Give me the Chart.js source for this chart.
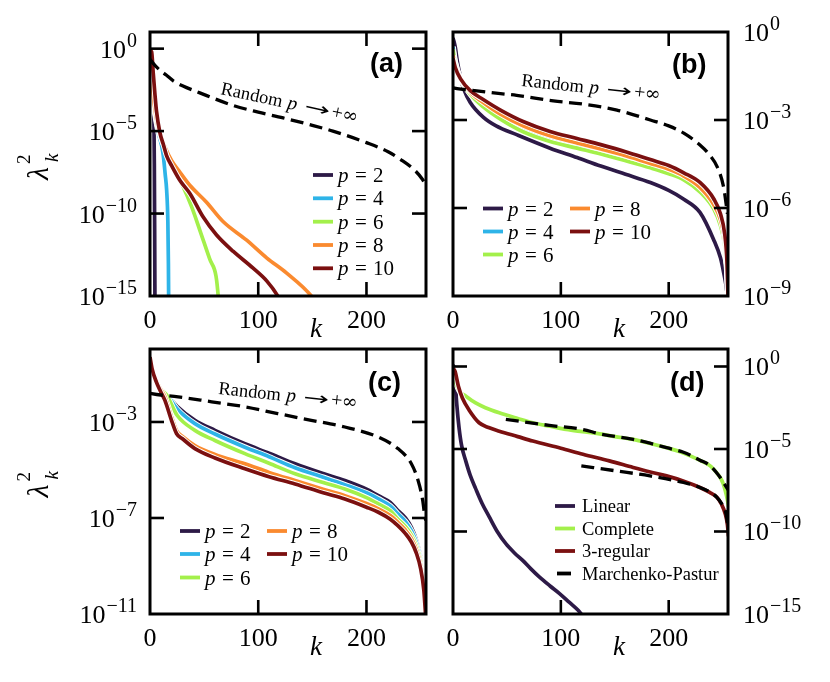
<!DOCTYPE html>
<html>
<head>
<meta charset="utf-8">
<script src="https://cdn.jsdelivr.net/npm/chart.js@4.4.0/dist/chart.umd.min.js"></script>
<style>
    html, body { margin: 0; padding: 0; background: #fff; }
    #figura { position: relative; width: 830px; height: 682px; }
    #figura canvas { position: absolute; left: 0; top: 0; }
</style>
</head>
<body>
<div id="figura">
    <canvas id="painelA" width="830" height="682"></canvas>
    <canvas id="painelB" width="830" height="682"></canvas>
    <canvas id="painelC" width="830" height="682"></canvas>
    <canvas id="painelD" width="830" height="682"></canvas>
</div>
<script>
// valores: k e log10(lambda_k^2)
const ticksX = [0, 100, 200];

// (a)
const kA_p2 = [0, 2, 3.5, 4, 4.3, 4.6];
const logA_p2 = [-0.4, -1.5, -3.5, -7, -11, -16];
const kA_p4 = [0, 2, 4, 7.7, 10.8, 12.3, 14, 15.4, 16.5, 17, 17.3];
const logA_p4 = [-1.0, -2.5, -3.7, -5.1, -5.9, -6.5, -7.6, -8.6, -10.5, -13, -16];
const kA_p6 = [0, 2, 4, 7, 10, 13.8, 20, 25, 30.8, 38.5, 46, 55.4, 61, 63, 64];
const logA_p6 = [-0.9, -2.3, -3.5, -4.7, -5.4, -6.0, -7.0, -7.7, -8.4, -9.6, -11, -12.8, -13.8, -15, -16];
const kA_p8 = [0, 2, 4, 7, 10, 14, 20, 27.7, 37, 52, 67.7, 89, 108, 126, 149, 152];
const logA_p8 = [-0.8, -2.2, -3.4, -4.6, -5.3, -6.0, -6.8, -7.5, -8.3, -9.3, -10.5, -11.6, -12.7, -13.6, -15, -15.3];
const kA_p10 = [0, 1.5, 3, 4.6, 6, 9.2, 12.3, 15.4, 20, 27.7, 37, 49, 61.5, 77, 95, 108, 118, 121];
const logA_p10 = [-0.1, -0.2, -1.5, -2.8, -3.8, -5.1, -5.8, -6.5, -7.1, -8.0, -8.8, -10.2, -11.3, -12.3, -13.3, -14.1, -15, -15.4];
const kA_rand = [0, 5, 10, 15, 21.5, 30, 46, 77, 100, 123, 150, 169, 200, 220, 231, 245, 252, 255];
const logA_rand = [-0.65, -1.05, -1.35, -1.6, -1.95, -2.25, -2.68, -3.45, -3.85, -4.2, -4.65, -5.0, -5.7, -6.25, -6.7, -7.4, -7.95, -8.3];
const ticksYA = [0, -5, -10, -15];

// (b)
const kB = [0, 2, 7, 16, 28, 44, 65, 90, 115, 137, 160, 183, 200, 214, 229, 242, 248, 252, 254, 255];
const kB_p2 = [0, 2, 4, 7, 10, 16, 28, 40, 59, 90, 115, 137, 160, 183, 200, 214, 229, 241.7, 248, 251, 253, 254.5];
const logB_p2 = [-0.2, -0.5, -1.0, -1.55, -1.95, -2.4, -2.9, -3.2, -3.5, -3.96, -4.28, -4.57, -4.85, -5.13, -5.4, -5.7, -6.15, -7.08, -7.7, -8.2, -8.6, -9];
const logB_p4 = [-0.5, -1.0, -1.6, -2.1, -2.5, -2.9, -3.32, -3.65, -3.89, -4.1, -4.33, -4.57, -4.78, -5.0, -5.4, -6.0, -6.5, -7.2, -8.1, -9];
const logB_p6 = [-0.6, -1.05, -1.6, -2.12, -2.55, -2.97, -3.4, -3.73, -3.96, -4.16, -4.39, -4.63, -4.83, -5.04, -5.45, -6.05, -6.6, -7.3, -8.2, -9];
const logB_p8 = [-0.8, -1.15, -1.6, -2.05, -2.4, -2.8, -3.2, -3.54, -3.78, -3.99, -4.22, -4.48, -4.68, -4.91, -5.3, -5.9, -6.4, -7.1, -8, -9];
const logB_p10 = [-0.9, -1.2, -1.6, -2.0, -2.3, -2.66, -3.05, -3.39, -3.63, -3.84, -4.08, -4.35, -4.55, -4.8, -5.13, -5.7, -6.2, -6.9, -7.8, -9];
const kB_rand = [0, 3.7, 20, 44, 59, 93, 121, 152, 183, 200, 214, 229, 237, 245, 251, 254.5];
const logB_rand = [-1.9, -1.93, -2.0, -2.1, -2.16, -2.35, -2.46, -2.66, -3.0, -3.2, -3.45, -3.85, -4.15, -4.6, -5.3, -6.2];
const ticksYB = [0, -3, -6, -9];

// (c)
const kC = [0, 2, 6, 10, 15.4, 25, 41.5, 60, 87.7, 110, 134, 160, 180, 200, 211, 222, 229, 236, 241.5, 246, 250, 253, 255];
const logC_p2 = [-0.5, -0.9, -1.3, -1.6, -1.85, -2.35, -2.93, -3.35, -3.91, -4.3, -4.74, -5.15, -5.44, -5.8, -6.07, -6.35, -6.69, -7.0, -7.39, -7.9, -8.6, -9.5, -10.5];
const logC_p4 = [-0.6, -0.95, -1.33, -1.62, -1.85, -2.45, -3.07, -3.5, -4.05, -4.45, -4.91, -5.3, -5.61, -5.95, -6.2, -6.5, -6.83, -7.15, -7.53, -8.0, -8.7, -9.6, -10.6];
const logC_p6 = [-0.6, -0.95, -1.33, -1.62, -1.88, -2.72, -3.35, -3.77, -4.32, -4.72, -5.16, -5.52, -5.79, -6.15, -6.41, -6.7, -7.04, -7.35, -7.7, -8.15, -8.8, -9.7, -10.8];
const kC2 = [0, 2, 6, 10, 13.8, 20, 24.6, 30, 41.5, 60, 87.7, 110, 134, 160, 180, 200, 211, 222, 229, 236, 241.5, 246, 250, 253, 255];
const logC_p8 = [-0.5, -0.85, -1.3, -1.65, -1.95, -2.8, -3.36, -3.6, -3.98, -4.35, -4.74, -5.1, -5.44, -5.8, -6.07, -6.4, -6.62, -6.9, -7.18, -7.5, -7.85, -8.3, -8.95, -9.8, -11];
const logC_p10 = [-0.3, -0.8, -1.35, -1.75, -2.1, -2.95, -3.49, -3.7, -4.11, -4.5, -4.95, -5.28, -5.58, -5.95, -6.21, -6.55, -6.76, -7.05, -7.32, -7.65, -8.0, -8.45, -9.1, -10, -11.3];
const kC_rand = [0, 1.5, 26, 57, 88, 118, 149, 180, 211, 229, 241.5, 247.7, 252, 254, 255];
const logC_rand = [-1.8, -1.82, -1.95, -2.16, -2.37, -2.65, -2.93, -3.21, -3.63, -4.11, -4.74, -5.44, -6.28, -6.97, -7.1];
const ticksYC = [-3, -7, -11];

// (d)
const kD_lin = [0, 1, 1.9, 3.5, 5.6, 8, 11.8, 16, 21, 27, 33.5, 41, 49, 57, 64.6, 72, 80, 90, 98.8, 108, 115.8, 119.5];
const logD_lin = [0.1, -0.1, -0.8, -2.3, -3.71, -4.8, -5.72, -6.6, -7.4, -8.3, -9.1, -10, -10.74, -11.3, -11.75, -12.25, -12.75, -13.3, -13.76, -14.3, -14.76, -15.05];
const kD_comp = [0, 1.9, 5.6, 12, 21, 30, 42.9, 60, 74, 90, 105, 120, 136, 150, 167, 182, 198, 210, 220, 230, 238.5, 244, 247.8, 250.5, 252.5, 254.5, 255.5];
const logD_comp = [-0.6, -0.9, -1.45, -1.8, -2.21, -2.5, -2.81, -3.15, -3.41, -3.62, -3.82, -3.95, -4.08, -4.25, -4.42, -4.65, -4.92, -5.15, -5.42, -5.72, -6.02, -6.4, -6.73, -7.1, -7.53, -8.1, -8.5];
const kD_reg = [0, 1.9, 5, 8.7, 15, 24.2, 33, 42.9, 60, 74, 100, 120.5, 145, 167, 182, 198, 214, 229, 238, 244.7, 249, 252.5, 254.5, 255.5];
const logD_reg = [-0.1, -0.3, -1.2, -1.91, -2.65, -3.41, -3.7, -3.92, -4.25, -4.52, -4.95, -5.32, -5.72, -6.12, -6.38, -6.63, -6.95, -7.33, -7.63, -7.93, -8.35, -8.94, -9.6, -10.3];
const kD_mp1 = [49, 89.4, 120.5, 136, 167, 182.6, 198, 213.7, 229, 238.5, 247.8, 252.5, 255.6];
const logD_mp1 = [-3.21, -3.57, -3.82, -4.08, -4.42, -4.65, -4.92, -5.2, -5.68, -6.02, -6.73, -7.2, -7.53];
const kD_mp2 = [119, 151.6, 182.6, 213.7, 229, 238, 244.7, 249, 252.5, 255.6];
const logD_mp2 = [-6.02, -6.33, -6.63, -7.03, -7.33, -7.6, -7.93, -8.3, -8.73, -9.94];
const ticksYD = [0, -5, -10, -15];

const corRoxo = '#2d1a47';
const corAzul = '#2eb4e8';
const corVerde = '#a3f04b';
const corLaranja = '#fa8a2f';
const corVinho = '#7b1010';

const SERIF = '"Liberation Serif", "DejaVu Serif", serif';
const TAM_TICK = 14;

function fonte(tam, estilo) {
    return `${estilo || ''} ${tam}px ${SERIF}`;
}

function linha(ctx, x1, y1, x2, y2) {
    ctx.beginPath();
    ctx.moveTo(x1, y1);
    ctx.lineTo(x2, y2);
    ctx.stroke();
}

function desenharPotencia(ctx, expoente, x, yBase, alinhar) {
    const exp = expoente === 0 ? '0' : '\u2212' + Math.abs(expoente);
    ctx.font = fonte(26);
    const wb = ctx.measureText('10').width;
    ctx.font = fonte(20);
    const we = ctx.measureText(exp).width;
    const x0 = alinhar === 'right' ? x - wb - we - 1 : x;
    ctx.textAlign = 'left';
    ctx.textBaseline = 'alphabetic';
    ctx.font = fonte(26);
    ctx.fillText('10', x0, yBase);
    ctx.font = fonte(20);
    ctx.fillText(exp, x0 + wb + 1, yBase - 11);
}

function desenharRandom(ctx, x, y, angulo) {
    ctx.save();
    ctx.translate(x, y);
    ctx.rotate(angulo * Math.PI / 180);
    ctx.textAlign = 'left';
    ctx.textBaseline = 'alphabetic';
    ctx.font = fonte(18.5);
    ctx.fillText('Random', 0, 0);
    ctx.font = fonte(19.5, 'italic');
    ctx.fillText('p', 68, 0);
    // seta esticada para ocupar ~24 px como no original
    ctx.font = '18px "DejaVu Sans", sans-serif';
    const m = ctx.measureText('\u2192');
    const tinta = Math.max(1, m.actualBoundingBoxLeft + m.actualBoundingBoxRight);
    const esc = 24 / tinta;
    ctx.save();
    ctx.translate(87 + m.actualBoundingBoxLeft * esc, 0);
    ctx.scale(esc, 1);
    ctx.fillText('\u2192', 0, 0);
    ctx.restore();
    ctx.font = fonte(20);
    ctx.fillText('+', 113, 0);
    ctx.font = '19px "DejaVu Serif", serif';
    ctx.fillText('\u221E', 124, 0);
    ctx.restore();
}

function desenharRotuloP(ctx, texto, x, y) {
    // texto "p = 10": p em itálico, resto normal
    const num = texto.replace('p = ', '');
    ctx.textAlign = 'left';
    ctx.textBaseline = 'alphabetic';
    ctx.font = fonte(21, 'italic');
    ctx.fillText('p', x, y);
    ctx.font = fonte(21);
    ctx.fillText('=', x + 17, y);
    ctx.fillText(num, x + 35, y);
}

function criarMoldura(cfg) {
    return {
        id: 'moldura',
        afterDraw(chart) {
            const ctx = chart.ctx;
            const a = chart.chartArea;
            const sx = chart.scales.x;
            const sy = chart.scales.y;
            ctx.save();
            ctx.setLineDash([]);
            ctx.strokeStyle = '#000';
            ctx.fillStyle = '#000';
            ctx.lineWidth = 3;
            ctx.strokeRect(a.left, a.top, a.right - a.left, a.bottom - a.top);

            ctx.lineWidth = 2.6;
            ticksX.forEach(v => {
                const px = sx.getPixelForValue(v);
                if (px > a.left + 3 && px < a.right - 3) {
                    linha(ctx, px, a.bottom, px, a.bottom - TAM_TICK);
                    linha(ctx, px, a.top, px, a.top + TAM_TICK);
                }
                ctx.font = fonte(26);
                ctx.textAlign = 'center';
                ctx.textBaseline = 'alphabetic';
                ctx.fillText(String(v), px, a.bottom + 32);
            });

            cfg.ticksY.forEach(e => {
                const py = sy.getPixelForValue(Math.pow(10, e));
                if (py > a.top + 3 && py < a.bottom - 3) {
                    linha(ctx, a.left, py, a.left + TAM_TICK, py);
                    linha(ctx, a.right, py, a.right - TAM_TICK, py);
                }
                if (cfg.lado === 'esquerda') desenharPotencia(ctx, e, a.left - 13, py + 9, 'right');
                else desenharPotencia(ctx, e, a.right + 15, py + 9, 'left');
            });

            // eixo x
            ctx.font = fonte(27, 'italic');
            ctx.textAlign = 'center';
            ctx.fillText('k', cfg.xRotuloK, a.bottom + 41);

            // eixo y: lambda^2_k girado
            if (cfg.lado === 'esquerda') {
                ctx.save();
                ctx.translate(48, (a.top + a.bottom) / 2);
                ctx.rotate(-Math.PI / 2);
                ctx.textAlign = 'left';
                ctx.font = fonte(30, 'italic');
                ctx.fillText('\u03BB', -16, 0);
                ctx.font = fonte(19);
                ctx.fillText('2', 0, -18);
                ctx.font = fonte(19, 'italic');
                ctx.fillText('k', 2, 10);
                ctx.restore();
            }

            // letra do painel
            ctx.font = 'bold 27px "Liberation Sans", Arial, sans-serif';
            ctx.textAlign = 'left';
            ctx.fillText(cfg.letra, cfg.posLetra[0], cfg.posLetra[1]);

            if (cfg.random) desenharRandom(ctx, cfg.random[0], cfg.random[1], cfg.random[2]);

            // legenda
            cfg.series.forEach((s, i) => {
                const pos = cfg.legenda[i];
                if (!pos) return;
                ctx.strokeStyle = s.cor;
                ctx.lineWidth = 3.8;
                if (s.tracejado) linha(ctx, pos[0] + 2, pos[1], pos[0] + 16, pos[1]);
                else linha(ctx, pos[0], pos[1], pos[0] + 20, pos[1]);
                ctx.fillStyle = '#000';
                if (s.rotulo.startsWith('p = ')) {
                    desenharRotuloP(ctx, s.rotulo, pos[0] + 25, pos[1] + 7);
                } else {
                    ctx.font = fonte(18.5);
                    ctx.textAlign = 'left';
                    ctx.fillText(s.rotulo, pos[0] + 27, pos[1] + 6);
                }
            });
            ctx.restore();
        }
    };
}

function montarDatasets(series) {
    const datasets = [];
    series.forEach((s, i) => {
        const dados = s.k.map((k, j) => ({ x: k, y: Math.pow(10, s.log[j]) }));
        const ordem = 100 - 2 * i;
        if (!s.tracejado) {
            datasets.push({
                data: dados, borderColor: '#ffffff', borderWidth: 5.6,
                pointRadius: 0, cubicInterpolationMode: 'monotone', order: ordem + 1
            });
        }
        datasets.push({
            label: s.rotulo, data: dados, borderColor: s.cor,
            borderWidth: s.tracejado ? 3.3 : 3.7, borderDash: s.tracejado ? [13, 6.5] : [],
            pointRadius: 0, cubicInterpolationMode: 'monotone', order: ordem
        });
    });
    return datasets;
}

function montarPainel(idCanvas, cfg) {
    const ctx = document.getElementById(idCanvas).getContext('2d');
    return new Chart(ctx, {
        type: 'line',
        data: { datasets: montarDatasets(cfg.series) },
        options: {
            responsive: false,
            animation: false,
            devicePixelRatio: 1,
            events: [],
            layout: { padding: { left: cfg.area[0], top: cfg.area[1], right: 830 - cfg.area[2], bottom: 682 - cfg.area[3] } },
            scales: {
                x: { type: 'linear', min: 0, max: 255, display: false },
                y: { type: 'logarithmic', min: cfg.yMin, max: cfg.yMax, display: false }
            },
            plugins: { legend: { display: false }, tooltip: { enabled: false } }
        },
        plugins: [criarMoldura(cfg)]
    });
}

const seriesA = [
    { rotulo: 'p = 2', cor: corRoxo, k: kA_p2, log: logA_p2 },
    { rotulo: 'p = 4', cor: corAzul, k: kA_p4, log: logA_p4 },
    { rotulo: 'p = 6', cor: corVerde, k: kA_p6, log: logA_p6 },
    { rotulo: 'p = 8', cor: corLaranja, k: kA_p8, log: logA_p8 },
    { rotulo: 'p = 10', cor: corVinho, k: kA_p10, log: logA_p10 },
    { rotulo: 'Random', cor: '#000', tracejado: true, k: kA_rand, log: logA_rand }
];
const seriesB = [
    { rotulo: 'p = 2', cor: corRoxo, k: kB_p2, log: logB_p2 },
    { rotulo: 'p = 4', cor: corAzul, k: kB, log: logB_p4 },
    { rotulo: 'p = 6', cor: corVerde, k: kB, log: logB_p6 },
    { rotulo: 'p = 8', cor: corLaranja, k: kB, log: logB_p8 },
    { rotulo: 'p = 10', cor: corVinho, k: kB, log: logB_p10 },
    { rotulo: 'Random', cor: '#000', tracejado: true, k: kB_rand, log: logB_rand }
];
const seriesC = [
    { rotulo: 'p = 2', cor: corRoxo, k: kC, log: logC_p2 },
    { rotulo: 'p = 4', cor: corAzul, k: kC, log: logC_p4 },
    { rotulo: 'p = 6', cor: corVerde, k: kC, log: logC_p6 },
    { rotulo: 'p = 8', cor: corLaranja, k: kC2, log: logC_p8 },
    { rotulo: 'p = 10', cor: corVinho, k: kC2, log: logC_p10 },
    { rotulo: 'Random', cor: '#000', tracejado: true, k: kC_rand, log: logC_rand }
];
const seriesD = [
    { rotulo: 'Linear', cor: corRoxo, k: kD_lin, log: logD_lin },
    { rotulo: 'Complete', cor: corVerde, k: kD_comp, log: logD_comp },
    { rotulo: '3-regular', cor: corVinho, k: kD_reg, log: logD_reg },
    { rotulo: 'Marchenko-Pastur', cor: '#000', tracejado: true, k: kD_mp1, log: logD_mp1 },
    { rotulo: 'Marchenko-Pastur', cor: '#000', tracejado: true, k: kD_mp2, log: logD_mp2 }
];

document.addEventListener('DOMContentLoaded', () => {
    montarPainel('painelA', {
        area: [150, 32, 426, 296], yMin: 1e-15, yMax: Math.pow(10, 1.01), ticksY: ticksYA,
        lado: 'esquerda', letra: '(a)', posLetra: [370, 72], xRotuloK: 316,
        random: [220, 94, 12], series: seriesA,
        legenda: [[313, 175], [313, 198.3], [313, 221.7], [313, 245], [313, 268.3]]
    });
    montarPainel('painelB', {
        area: [453, 32, 728, 296], yMin: 1e-9, yMax: 1, ticksY: ticksYB,
        lado: 'direita', letra: '(b)', posLetra: [672, 73], xRotuloK: 619,
        random: [521, 86, 6], series: seriesB,
        legenda: [[483, 208.5], [483, 231.5], [483, 254.5], [570, 208.5], [570, 231.5]]
    });
    montarPainel('painelC', {
        area: [150, 349, 426, 614], yMin: 1e-11, yMax: Math.pow(10, 0.04), ticksY: ticksYC,
        lado: 'esquerda', letra: '(c)', posLetra: [368, 391], xRotuloK: 316,
        random: [218, 394, 6], series: seriesC,
        legenda: [[180, 531], [180, 554], [180, 577.5], [267, 531], [267, 554]]
    });
    montarPainel('painelD', {
        area: [453, 349, 728, 614], yMin: 1e-15, yMax: Math.pow(10, 1.06), ticksY: ticksYD,
        lado: 'direita', letra: '(d)', posLetra: [670, 391], xRotuloK: 619,
        random: null, series: seriesD,
        legenda: [[555, 506], [555, 528.5], [555, 551], [555, 573.5]]
    });
});
</script>
</body>
</html>
